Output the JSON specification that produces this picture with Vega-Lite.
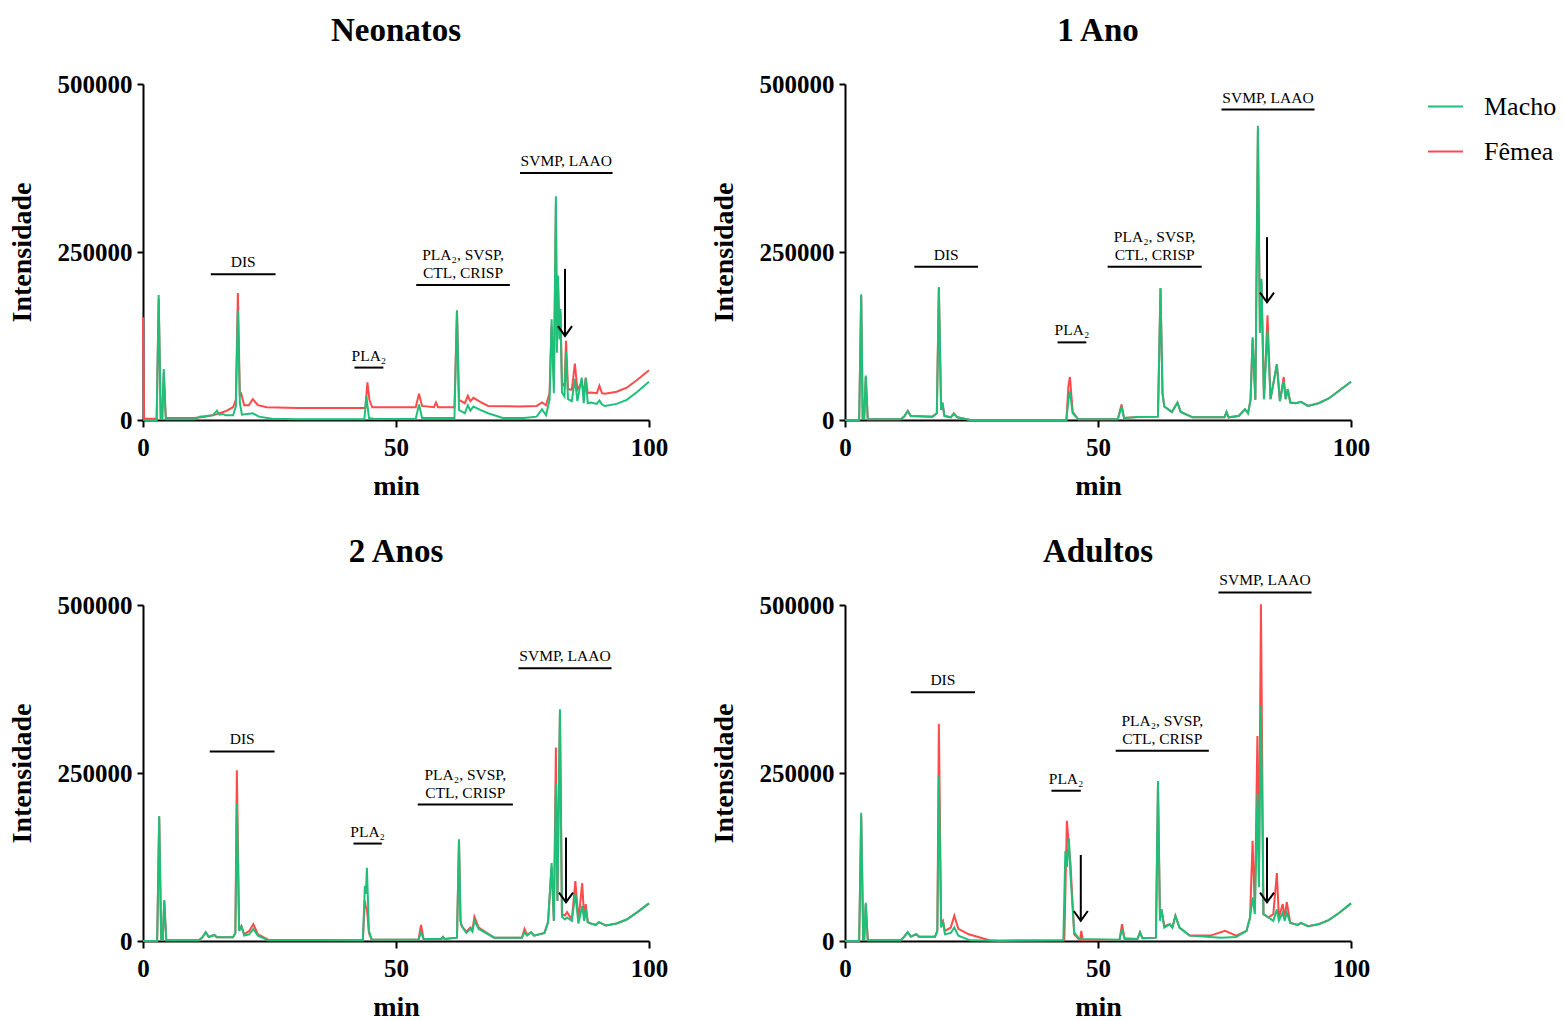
{
"$schema":"https://vega.github.io/schema/vega-lite/v6.json",
"padding":{"left":8,"top":15,"right":5,"bottom":0},
"config":{
 "font":"Liberation Serif",
 "view":{"stroke":null},
 "axis":{"grid":false,"domainColor":"black","domainWidth":2,"tickColor":"black","tickWidth":2,"tickSize":7,"labelFont":"Liberation Serif","labelFontWeight":"bold","labelFontSize":25,"labelColor":"black","titleFont":"Liberation Serif","titleFontWeight":"bold","titleFontSize":28,"titleColor":"black","labelOverlap":false,"labelBound":false},
 "axisX":{"labelPadding":8,"titlePadding":12,"labelFlush":false},
 "axisY":{"labelPadding":5,"titlePadding":21,"tickSize":6},
 "title":{"font":"Liberation Serif","fontSize":33,"fontWeight":"bold","offset":24,"color":"black","anchor":"middle"},
 "text":{"font":"Liberation Serif"}
},
"datasets":{
"ann":[
{"p":"N","x1":13.4,"x2":26.2,"xm":19.8,"y":217000,"label":"DIS"},
{"p":"N","x1":41.8,"x2":47.5,"xm":44.65,"y":78000,"label":"PLA₂"},
{"p":"N","x1":54.0,"x2":72.5,"xm":63.25,"y":201000,"label":"PLA₂, SVSP,\nCTL, CRISP"},
{"p":"N","x1":74.5,"x2":92.8,"xm":83.65,"y":367500,"label":"SVMP, LAAO"},
{"p":"A1","x1":13.7,"x2":26.3,"xm":20.0,"y":228000,"label":"DIS"},
{"p":"A1","x1":42.0,"x2":47.7,"xm":44.85,"y":115500,"label":"PLA₂"},
{"p":"A1","x1":51.9,"x2":70.5,"xm":61.2,"y":228000,"label":"PLA₂, SVSP,\nCTL, CRISP"},
{"p":"A1","x1":74.4,"x2":92.8,"xm":83.6,"y":462000,"label":"SVMP, LAAO"},
{"p":"A2","x1":13.2,"x2":26.0,"xm":19.6,"y":282000,"label":"DIS"},
{"p":"A2","x1":41.6,"x2":47.2,"xm":44.4,"y":145000,"label":"PLA₂"},
{"p":"A2","x1":54.3,"x2":73.1,"xm":63.7,"y":203000,"label":"PLA₂, SVSP,\nCTL, CRISP"},
{"p":"A2","x1":74.2,"x2":92.6,"xm":83.4,"y":406000,"label":"SVMP, LAAO"},
{"p":"AD","x1":13.0,"x2":25.7,"xm":19.35,"y":370000,"label":"DIS"},
{"p":"AD","x1":40.8,"x2":46.6,"xm":43.7,"y":223600,"label":"PLA₂"},
{"p":"AD","x1":53.5,"x2":71.9,"xm":62.7,"y":283000,"label":"PLA₂, SVSP,\nCTL, CRISP"},
{"p":"AD","x1":73.8,"x2":92.2,"xm":83.0,"y":518700,"label":"SVMP, LAAO"}
],
"arr":[
{"p":"N","t":83.4,"y1":225000,"y2":125000},
{"p":"A1","t":83.4,"y1":272000,"y2":175000},
{"p":"A2","t":83.6,"y1":154000,"y2":57500},
{"p":"AD","t":46.6,"y1":128000,"y2":30000},
{"p":"AD","t":83.4,"y1":154000,"y2":57500}
],
"chrom":[
{"p":"N","s":"Macho","t":0,"v":0},{"p":"N","s":"Macho","t":2.7,"v":0},{"p":"N","s":"Macho","t":3.1,"v":186000},{"p":"N","s":"Macho","t":3.5,"v":2000},{"p":"N","s":"Macho","t":3.8,"v":2000},{"p":"N","s":"Macho","t":4.1,"v":76000},{"p":"N","s":"Macho","t":4.5,"v":1000},{"p":"N","s":"Macho","t":10.2,"v":1000},{"p":"N","s":"Macho","t":11.2,"v":5000},{"p":"N","s":"Macho","t":13.8,"v":7000},{"p":"N","s":"Macho","t":14.6,"v":14000},{"p":"N","s":"Macho","t":15.1,"v":8000},{"p":"N","s":"Macho","t":15.8,"v":9000},{"p":"N","s":"Macho","t":16.3,"v":7000},{"p":"N","s":"Macho","t":17.8,"v":7000},{"p":"N","s":"Macho","t":18.35,"v":20000},{"p":"N","s":"Macho","t":18.75,"v":163000},{"p":"N","s":"Macho","t":19.15,"v":25000},{"p":"N","s":"Macho","t":19.55,"v":8000},{"p":"N","s":"Macho","t":21.7,"v":10000},{"p":"N","s":"Macho","t":22.9,"v":5000},{"p":"N","s":"Macho","t":25.5,"v":2000},{"p":"N","s":"Macho","t":30.55,"v":1000},{"p":"N","s":"Macho","t":43.75,"v":1000},{"p":"N","s":"Macho","t":44.15,"v":36000},{"p":"N","s":"Macho","t":44.65,"v":3000},{"p":"N","s":"Macho","t":45.8,"v":1500},{"p":"N","s":"Macho","t":53.9,"v":2000},{"p":"N","s":"Macho","t":54.55,"v":23000},{"p":"N","s":"Macho","t":55.15,"v":3000},{"p":"N","s":"Macho","t":61.55,"v":3000},{"p":"N","s":"Macho","t":62.05,"v":163000},{"p":"N","s":"Macho","t":62.45,"v":15000},{"p":"N","s":"Macho","t":63.6,"v":10000},{"p":"N","s":"Macho","t":64.2,"v":22000},{"p":"N","s":"Macho","t":64.7,"v":14000},{"p":"N","s":"Macho","t":65.3,"v":20000},{"p":"N","s":"Macho","t":66.65,"v":15000},{"p":"N","s":"Macho","t":68.2,"v":10000},{"p":"N","s":"Macho","t":71.1,"v":3000},{"p":"N","s":"Macho","t":75.3,"v":3000},{"p":"N","s":"Macho","t":77.8,"v":5000},{"p":"N","s":"Macho","t":78.85,"v":16000},{"p":"N","s":"Macho","t":79.65,"v":7000},{"p":"N","s":"Macho","t":80.35,"v":30000},{"p":"N","s":"Macho","t":80.75,"v":150000},{"p":"N","s":"Macho","t":81.2,"v":40000},{"p":"N","s":"Macho","t":81.6,"v":333000},{"p":"N","s":"Macho","t":81.8,"v":100000},{"p":"N","s":"Macho","t":82.0,"v":215000},{"p":"N","s":"Macho","t":82.3,"v":120000},{"p":"N","s":"Macho","t":82.5,"v":165000},{"p":"N","s":"Macho","t":82.8,"v":41000},{"p":"N","s":"Macho","t":83.3,"v":35000},{"p":"N","s":"Macho","t":83.6,"v":101000},{"p":"N","s":"Macho","t":84.0,"v":31000},{"p":"N","s":"Macho","t":84.75,"v":28000},{"p":"N","s":"Macho","t":85.35,"v":61000},{"p":"N","s":"Macho","t":85.85,"v":28000},{"p":"N","s":"Macho","t":86.7,"v":63000},{"p":"N","s":"Macho","t":87.1,"v":25000},{"p":"N","s":"Macho","t":87.5,"v":62000},{"p":"N","s":"Macho","t":87.9,"v":25000},{"p":"N","s":"Macho","t":88.5,"v":26000},{"p":"N","s":"Macho","t":89.7,"v":24000},{"p":"N","s":"Macho","t":90.2,"v":29000},{"p":"N","s":"Macho","t":90.7,"v":23000},{"p":"N","s":"Macho","t":91.3,"v":21000},{"p":"N","s":"Macho","t":93.6,"v":24000},{"p":"N","s":"Macho","t":95.6,"v":30000},{"p":"N","s":"Macho","t":97.7,"v":42000},{"p":"N","s":"Macho","t":100,"v":57000},
{"p":"N","s":"Fêmea","t":0,"v":153000},{"p":"N","s":"Fêmea","t":0.2,"v":2000},{"p":"N","s":"Fêmea","t":2.7,"v":2000},{"p":"N","s":"Fêmea","t":3.1,"v":180000},{"p":"N","s":"Fêmea","t":3.5,"v":3000},{"p":"N","s":"Fêmea","t":3.8,"v":3000},{"p":"N","s":"Fêmea","t":4.1,"v":70000},{"p":"N","s":"Fêmea","t":4.5,"v":3000},{"p":"N","s":"Fêmea","t":10.2,"v":3000},{"p":"N","s":"Fêmea","t":12.2,"v":5000},{"p":"N","s":"Fêmea","t":14.3,"v":8000},{"p":"N","s":"Fêmea","t":16.3,"v":13000},{"p":"N","s":"Fêmea","t":17.8,"v":19000},{"p":"N","s":"Fêmea","t":18.35,"v":30000},{"p":"N","s":"Fêmea","t":18.75,"v":189000},{"p":"N","s":"Fêmea","t":19.15,"v":35000},{"p":"N","s":"Fêmea","t":19.35,"v":41000},{"p":"N","s":"Fêmea","t":20.0,"v":22000},{"p":"N","s":"Fêmea","t":20.9,"v":22000},{"p":"N","s":"Fêmea","t":21.7,"v":31000},{"p":"N","s":"Fêmea","t":22.7,"v":22000},{"p":"N","s":"Fêmea","t":24.45,"v":19000},{"p":"N","s":"Fêmea","t":30.55,"v":18000},{"p":"N","s":"Fêmea","t":43.95,"v":18000},{"p":"N","s":"Fêmea","t":44.35,"v":56000},{"p":"N","s":"Fêmea","t":44.75,"v":30000},{"p":"N","s":"Fêmea","t":45.3,"v":19000},{"p":"N","s":"Fêmea","t":53.9,"v":19000},{"p":"N","s":"Fêmea","t":54.55,"v":39000},{"p":"N","s":"Fêmea","t":55.15,"v":21000},{"p":"N","s":"Fêmea","t":57.5,"v":19000},{"p":"N","s":"Fêmea","t":57.9,"v":26000},{"p":"N","s":"Fêmea","t":58.3,"v":19000},{"p":"N","s":"Fêmea","t":61.55,"v":19000},{"p":"N","s":"Fêmea","t":62.05,"v":163000},{"p":"N","s":"Fêmea","t":62.45,"v":30000},{"p":"N","s":"Fêmea","t":63.6,"v":25000},{"p":"N","s":"Fêmea","t":64.2,"v":36000},{"p":"N","s":"Fêmea","t":64.7,"v":28000},{"p":"N","s":"Fêmea","t":65.3,"v":33000},{"p":"N","s":"Fêmea","t":66.65,"v":27000},{"p":"N","s":"Fêmea","t":68.2,"v":21000},{"p":"N","s":"Fêmea","t":74.3,"v":20000},{"p":"N","s":"Fêmea","t":77.8,"v":21000},{"p":"N","s":"Fêmea","t":78.85,"v":26000},{"p":"N","s":"Fêmea","t":79.65,"v":22000},{"p":"N","s":"Fêmea","t":80.35,"v":40000},{"p":"N","s":"Fêmea","t":80.75,"v":140000},{"p":"N","s":"Fêmea","t":81.2,"v":60000},{"p":"N","s":"Fêmea","t":81.6,"v":320000},{"p":"N","s":"Fêmea","t":81.8,"v":120000},{"p":"N","s":"Fêmea","t":82.0,"v":210000},{"p":"N","s":"Fêmea","t":82.3,"v":130000},{"p":"N","s":"Fêmea","t":82.5,"v":160000},{"p":"N","s":"Fêmea","t":82.8,"v":55000},{"p":"N","s":"Fêmea","t":83.3,"v":50000},{"p":"N","s":"Fêmea","t":83.6,"v":118000},{"p":"N","s":"Fêmea","t":84.0,"v":46000},{"p":"N","s":"Fêmea","t":84.75,"v":45000},{"p":"N","s":"Fêmea","t":85.35,"v":84000},{"p":"N","s":"Fêmea","t":85.85,"v":45000},{"p":"N","s":"Fêmea","t":86.7,"v":56000},{"p":"N","s":"Fêmea","t":87.1,"v":40000},{"p":"N","s":"Fêmea","t":87.5,"v":63000},{"p":"N","s":"Fêmea","t":87.9,"v":40000},{"p":"N","s":"Fêmea","t":88.5,"v":41000},{"p":"N","s":"Fêmea","t":89.7,"v":40000},{"p":"N","s":"Fêmea","t":90.2,"v":51000},{"p":"N","s":"Fêmea","t":90.7,"v":40000},{"p":"N","s":"Fêmea","t":91.3,"v":39000},{"p":"N","s":"Fêmea","t":93.6,"v":42000},{"p":"N","s":"Fêmea","t":95.6,"v":48000},{"p":"N","s":"Fêmea","t":97.7,"v":60000},{"p":"N","s":"Fêmea","t":100,"v":74000},
{"p":"A1","s":"Macho","t":0,"v":0},{"p":"A1","s":"Macho","t":2.8,"v":0},{"p":"A1","s":"Macho","t":3.2,"v":187000},{"p":"A1","s":"Macho","t":3.5,"v":2000},{"p":"A1","s":"Macho","t":3.8,"v":2000},{"p":"A1","s":"Macho","t":4.1,"v":66000},{"p":"A1","s":"Macho","t":4.5,"v":1000},{"p":"A1","s":"Macho","t":11.0,"v":1000},{"p":"A1","s":"Macho","t":11.7,"v":5000},{"p":"A1","s":"Macho","t":12.4,"v":13500},{"p":"A1","s":"Macho","t":13.0,"v":6000},{"p":"A1","s":"Macho","t":17.3,"v":5000},{"p":"A1","s":"Macho","t":18.15,"v":10000},{"p":"A1","s":"Macho","t":18.55,"v":198000},{"p":"A1","s":"Macho","t":19.0,"v":15000},{"p":"A1","s":"Macho","t":19.25,"v":26000},{"p":"A1","s":"Macho","t":19.65,"v":6000},{"p":"A1","s":"Macho","t":20.9,"v":4000},{"p":"A1","s":"Macho","t":21.5,"v":9000},{"p":"A1","s":"Macho","t":22.2,"v":4000},{"p":"A1","s":"Macho","t":24.75,"v":0},{"p":"A1","s":"Macho","t":43.75,"v":0},{"p":"A1","s":"Macho","t":44.15,"v":30000},{"p":"A1","s":"Macho","t":44.45,"v":43000},{"p":"A1","s":"Macho","t":45.0,"v":10000},{"p":"A1","s":"Macho","t":46.1,"v":1000},{"p":"A1","s":"Macho","t":53.9,"v":1000},{"p":"A1","s":"Macho","t":54.65,"v":19000},{"p":"A1","s":"Macho","t":55.15,"v":3000},{"p":"A1","s":"Macho","t":58.0,"v":4500},{"p":"A1","s":"Macho","t":61.85,"v":5000},{"p":"A1","s":"Macho","t":62.35,"v":196000},{"p":"A1","s":"Macho","t":62.75,"v":40000},{"p":"A1","s":"Macho","t":63.1,"v":20000},{"p":"A1","s":"Macho","t":64.6,"v":12000},{"p":"A1","s":"Macho","t":65.7,"v":26000},{"p":"A1","s":"Macho","t":66.35,"v":12000},{"p":"A1","s":"Macho","t":68.7,"v":4000},{"p":"A1","s":"Macho","t":75.0,"v":4000},{"p":"A1","s":"Macho","t":75.4,"v":12000},{"p":"A1","s":"Macho","t":75.8,"v":4000},{"p":"A1","s":"Macho","t":77.8,"v":6000},{"p":"A1","s":"Macho","t":79.05,"v":16000},{"p":"A1","s":"Macho","t":79.65,"v":10000},{"p":"A1","s":"Macho","t":80.15,"v":30000},{"p":"A1","s":"Macho","t":80.55,"v":123000},{"p":"A1","s":"Macho","t":81.1,"v":30000},{"p":"A1","s":"Macho","t":81.6,"v":438000},{"p":"A1","s":"Macho","t":82.0,"v":130000},{"p":"A1","s":"Macho","t":82.3,"v":210000},{"p":"A1","s":"Macho","t":82.8,"v":31000},{"p":"A1","s":"Macho","t":83.5,"v":133000},{"p":"A1","s":"Macho","t":84.1,"v":31000},{"p":"A1","s":"Macho","t":85.35,"v":83000},{"p":"A1","s":"Macho","t":85.95,"v":28000},{"p":"A1","s":"Macho","t":86.7,"v":58000},{"p":"A1","s":"Macho","t":87.1,"v":31000},{"p":"A1","s":"Macho","t":87.5,"v":46000},{"p":"A1","s":"Macho","t":88.0,"v":26000},{"p":"A1","s":"Macho","t":89.1,"v":25000},{"p":"A1","s":"Macho","t":90.1,"v":27000},{"p":"A1","s":"Macho","t":91.5,"v":21000},{"p":"A1","s":"Macho","t":93.6,"v":25000},{"p":"A1","s":"Macho","t":95.6,"v":32000},{"p":"A1","s":"Macho","t":97.7,"v":44000},{"p":"A1","s":"Macho","t":100,"v":57000},
{"p":"A1","s":"Fêmea","t":0,"v":0},{"p":"A1","s":"Fêmea","t":2.8,"v":0},{"p":"A1","s":"Fêmea","t":3.2,"v":185000},{"p":"A1","s":"Fêmea","t":3.5,"v":2000},{"p":"A1","s":"Fêmea","t":3.8,"v":2000},{"p":"A1","s":"Fêmea","t":4.1,"v":64000},{"p":"A1","s":"Fêmea","t":4.5,"v":1000},{"p":"A1","s":"Fêmea","t":11.0,"v":1000},{"p":"A1","s":"Fêmea","t":11.7,"v":5000},{"p":"A1","s":"Fêmea","t":12.4,"v":13500},{"p":"A1","s":"Fêmea","t":13.0,"v":6000},{"p":"A1","s":"Fêmea","t":17.3,"v":5000},{"p":"A1","s":"Fêmea","t":18.15,"v":10000},{"p":"A1","s":"Fêmea","t":18.55,"v":196000},{"p":"A1","s":"Fêmea","t":19.0,"v":15000},{"p":"A1","s":"Fêmea","t":19.25,"v":26000},{"p":"A1","s":"Fêmea","t":19.65,"v":6000},{"p":"A1","s":"Fêmea","t":20.9,"v":4000},{"p":"A1","s":"Fêmea","t":21.5,"v":10000},{"p":"A1","s":"Fêmea","t":22.2,"v":4000},{"p":"A1","s":"Fêmea","t":24.75,"v":0},{"p":"A1","s":"Fêmea","t":43.75,"v":0},{"p":"A1","s":"Fêmea","t":44.15,"v":50000},{"p":"A1","s":"Fêmea","t":44.45,"v":64000},{"p":"A1","s":"Fêmea","t":45.0,"v":12000},{"p":"A1","s":"Fêmea","t":46.1,"v":1000},{"p":"A1","s":"Fêmea","t":53.9,"v":1000},{"p":"A1","s":"Fêmea","t":54.65,"v":23000},{"p":"A1","s":"Fêmea","t":55.15,"v":3000},{"p":"A1","s":"Fêmea","t":58.0,"v":4500},{"p":"A1","s":"Fêmea","t":61.85,"v":5000},{"p":"A1","s":"Fêmea","t":62.35,"v":196000},{"p":"A1","s":"Fêmea","t":62.75,"v":40000},{"p":"A1","s":"Fêmea","t":63.1,"v":20000},{"p":"A1","s":"Fêmea","t":64.6,"v":12000},{"p":"A1","s":"Fêmea","t":65.7,"v":26000},{"p":"A1","s":"Fêmea","t":66.35,"v":12000},{"p":"A1","s":"Fêmea","t":68.7,"v":4000},{"p":"A1","s":"Fêmea","t":75.0,"v":4000},{"p":"A1","s":"Fêmea","t":75.4,"v":12000},{"p":"A1","s":"Fêmea","t":75.8,"v":4000},{"p":"A1","s":"Fêmea","t":77.8,"v":6000},{"p":"A1","s":"Fêmea","t":79.05,"v":16000},{"p":"A1","s":"Fêmea","t":79.65,"v":10000},{"p":"A1","s":"Fêmea","t":80.15,"v":30000},{"p":"A1","s":"Fêmea","t":80.55,"v":120000},{"p":"A1","s":"Fêmea","t":81.1,"v":30000},{"p":"A1","s":"Fêmea","t":81.6,"v":430000},{"p":"A1","s":"Fêmea","t":82.0,"v":130000},{"p":"A1","s":"Fêmea","t":82.3,"v":205000},{"p":"A1","s":"Fêmea","t":82.8,"v":31000},{"p":"A1","s":"Fêmea","t":83.5,"v":156000},{"p":"A1","s":"Fêmea","t":84.1,"v":31000},{"p":"A1","s":"Fêmea","t":85.35,"v":83000},{"p":"A1","s":"Fêmea","t":85.95,"v":28000},{"p":"A1","s":"Fêmea","t":86.7,"v":64000},{"p":"A1","s":"Fêmea","t":87.1,"v":31000},{"p":"A1","s":"Fêmea","t":87.5,"v":46000},{"p":"A1","s":"Fêmea","t":88.0,"v":26000},{"p":"A1","s":"Fêmea","t":89.1,"v":25000},{"p":"A1","s":"Fêmea","t":90.1,"v":27000},{"p":"A1","s":"Fêmea","t":91.5,"v":21000},{"p":"A1","s":"Fêmea","t":93.6,"v":25000},{"p":"A1","s":"Fêmea","t":95.6,"v":32000},{"p":"A1","s":"Fêmea","t":97.7,"v":44000},{"p":"A1","s":"Fêmea","t":100,"v":57000},
{"p":"A2","s":"Macho","t":0,"v":0},{"p":"A2","s":"Macho","t":2.8,"v":0},{"p":"A2","s":"Macho","t":3.2,"v":186000},{"p":"A2","s":"Macho","t":3.6,"v":2000},{"p":"A2","s":"Macho","t":3.9,"v":2000},{"p":"A2","s":"Macho","t":4.2,"v":61000},{"p":"A2","s":"Macho","t":4.6,"v":1000},{"p":"A2","s":"Macho","t":11.0,"v":1000},{"p":"A2","s":"Macho","t":11.7,"v":5000},{"p":"A2","s":"Macho","t":12.4,"v":13000},{"p":"A2","s":"Macho","t":13.0,"v":6000},{"p":"A2","s":"Macho","t":14.1,"v":9000},{"p":"A2","s":"Macho","t":14.6,"v":5500},{"p":"A2","s":"Macho","t":17.8,"v":5500},{"p":"A2","s":"Macho","t":18.25,"v":12000},{"p":"A2","s":"Macho","t":18.55,"v":204000},{"p":"A2","s":"Macho","t":19.0,"v":15000},{"p":"A2","s":"Macho","t":19.45,"v":22000},{"p":"A2","s":"Macho","t":20.0,"v":8000},{"p":"A2","s":"Macho","t":21.0,"v":10000},{"p":"A2","s":"Macho","t":21.8,"v":18000},{"p":"A2","s":"Macho","t":22.7,"v":8000},{"p":"A2","s":"Macho","t":24.75,"v":1000},{"p":"A2","s":"Macho","t":43.45,"v":1000},{"p":"A2","s":"Macho","t":43.85,"v":82000},{"p":"A2","s":"Macho","t":44.05,"v":70000},{"p":"A2","s":"Macho","t":44.25,"v":109000},{"p":"A2","s":"Macho","t":44.65,"v":15000},{"p":"A2","s":"Macho","t":45.2,"v":2000},{"p":"A2","s":"Macho","t":54.45,"v":2000},{"p":"A2","s":"Macho","t":54.95,"v":13000},{"p":"A2","s":"Macho","t":55.45,"v":3000},{"p":"A2","s":"Macho","t":59.0,"v":3000},{"p":"A2","s":"Macho","t":59.3,"v":6000},{"p":"A2","s":"Macho","t":59.6,"v":3000},{"p":"A2","s":"Macho","t":62.05,"v":5000},{"p":"A2","s":"Macho","t":62.45,"v":151000},{"p":"A2","s":"Macho","t":62.75,"v":30000},{"p":"A2","s":"Macho","t":63.0,"v":22000},{"p":"A2","s":"Macho","t":63.9,"v":12000},{"p":"A2","s":"Macho","t":64.7,"v":18000},{"p":"A2","s":"Macho","t":65.1,"v":14000},{"p":"A2","s":"Macho","t":65.5,"v":30000},{"p":"A2","s":"Macho","t":66.35,"v":18000},{"p":"A2","s":"Macho","t":69.4,"v":5000},{"p":"A2","s":"Macho","t":74.9,"v":5000},{"p":"A2","s":"Macho","t":75.4,"v":13000},{"p":"A2","s":"Macho","t":75.9,"v":8000},{"p":"A2","s":"Macho","t":76.7,"v":13000},{"p":"A2","s":"Macho","t":77.3,"v":8000},{"p":"A2","s":"Macho","t":79.35,"v":12000},{"p":"A2","s":"Macho","t":80.05,"v":28000},{"p":"A2","s":"Macho","t":80.75,"v":116000},{"p":"A2","s":"Macho","t":81.2,"v":30000},{"p":"A2","s":"Macho","t":81.6,"v":234000},{"p":"A2","s":"Macho","t":81.9,"v":60000},{"p":"A2","s":"Macho","t":82.4,"v":345000},{"p":"A2","s":"Macho","t":82.8,"v":36000},{"p":"A2","s":"Macho","t":83.4,"v":32000},{"p":"A2","s":"Macho","t":83.8,"v":35000},{"p":"A2","s":"Macho","t":84.75,"v":30000},{"p":"A2","s":"Macho","t":85.45,"v":70000},{"p":"A2","s":"Macho","t":86.05,"v":26000},{"p":"A2","s":"Macho","t":86.8,"v":52000},{"p":"A2","s":"Macho","t":87.2,"v":30000},{"p":"A2","s":"Macho","t":87.5,"v":48000},{"p":"A2","s":"Macho","t":87.9,"v":28000},{"p":"A2","s":"Macho","t":88.5,"v":26000},{"p":"A2","s":"Macho","t":89.5,"v":24000},{"p":"A2","s":"Macho","t":90.1,"v":28000},{"p":"A2","s":"Macho","t":91.5,"v":23000},{"p":"A2","s":"Macho","t":93.6,"v":26000},{"p":"A2","s":"Macho","t":95.6,"v":32000},{"p":"A2","s":"Macho","t":97.7,"v":43000},{"p":"A2","s":"Macho","t":100,"v":56000},
{"p":"A2","s":"Fêmea","t":0,"v":0},{"p":"A2","s":"Fêmea","t":2.8,"v":0},{"p":"A2","s":"Fêmea","t":3.2,"v":184000},{"p":"A2","s":"Fêmea","t":3.6,"v":2000},{"p":"A2","s":"Fêmea","t":3.9,"v":2000},{"p":"A2","s":"Fêmea","t":4.2,"v":60000},{"p":"A2","s":"Fêmea","t":4.6,"v":1000},{"p":"A2","s":"Fêmea","t":11.0,"v":1000},{"p":"A2","s":"Fêmea","t":11.7,"v":5000},{"p":"A2","s":"Fêmea","t":12.4,"v":13000},{"p":"A2","s":"Fêmea","t":13.0,"v":6000},{"p":"A2","s":"Fêmea","t":14.1,"v":9000},{"p":"A2","s":"Fêmea","t":14.6,"v":5500},{"p":"A2","s":"Fêmea","t":17.8,"v":5500},{"p":"A2","s":"Fêmea","t":18.25,"v":12000},{"p":"A2","s":"Fêmea","t":18.55,"v":254000},{"p":"A2","s":"Fêmea","t":19.0,"v":15000},{"p":"A2","s":"Fêmea","t":19.45,"v":22000},{"p":"A2","s":"Fêmea","t":20.0,"v":10000},{"p":"A2","s":"Fêmea","t":21.0,"v":15000},{"p":"A2","s":"Fêmea","t":21.8,"v":25000},{"p":"A2","s":"Fêmea","t":22.7,"v":10000},{"p":"A2","s":"Fêmea","t":24.75,"v":2000},{"p":"A2","s":"Fêmea","t":43.45,"v":1000},{"p":"A2","s":"Fêmea","t":43.85,"v":60000},{"p":"A2","s":"Fêmea","t":44.05,"v":50000},{"p":"A2","s":"Fêmea","t":44.25,"v":48000},{"p":"A2","s":"Fêmea","t":44.65,"v":12000},{"p":"A2","s":"Fêmea","t":45.2,"v":2000},{"p":"A2","s":"Fêmea","t":54.45,"v":2000},{"p":"A2","s":"Fêmea","t":54.95,"v":24000},{"p":"A2","s":"Fêmea","t":55.45,"v":3000},{"p":"A2","s":"Fêmea","t":59.0,"v":3000},{"p":"A2","s":"Fêmea","t":59.3,"v":6000},{"p":"A2","s":"Fêmea","t":59.6,"v":3000},{"p":"A2","s":"Fêmea","t":62.05,"v":5000},{"p":"A2","s":"Fêmea","t":62.45,"v":151000},{"p":"A2","s":"Fêmea","t":62.75,"v":30000},{"p":"A2","s":"Fêmea","t":63.0,"v":22000},{"p":"A2","s":"Fêmea","t":63.9,"v":14000},{"p":"A2","s":"Fêmea","t":64.7,"v":20000},{"p":"A2","s":"Fêmea","t":65.1,"v":16000},{"p":"A2","s":"Fêmea","t":65.5,"v":36000},{"p":"A2","s":"Fêmea","t":66.35,"v":20000},{"p":"A2","s":"Fêmea","t":69.4,"v":5000},{"p":"A2","s":"Fêmea","t":74.9,"v":5000},{"p":"A2","s":"Fêmea","t":75.4,"v":18000},{"p":"A2","s":"Fêmea","t":75.9,"v":9000},{"p":"A2","s":"Fêmea","t":76.7,"v":13000},{"p":"A2","s":"Fêmea","t":77.3,"v":8000},{"p":"A2","s":"Fêmea","t":79.35,"v":12000},{"p":"A2","s":"Fêmea","t":80.05,"v":28000},{"p":"A2","s":"Fêmea","t":80.75,"v":110000},{"p":"A2","s":"Fêmea","t":81.2,"v":30000},{"p":"A2","s":"Fêmea","t":81.6,"v":288000},{"p":"A2","s":"Fêmea","t":81.9,"v":60000},{"p":"A2","s":"Fêmea","t":82.4,"v":340000},{"p":"A2","s":"Fêmea","t":82.8,"v":40000},{"p":"A2","s":"Fêmea","t":83.4,"v":38000},{"p":"A2","s":"Fêmea","t":83.8,"v":43000},{"p":"A2","s":"Fêmea","t":84.75,"v":32000},{"p":"A2","s":"Fêmea","t":85.45,"v":89000},{"p":"A2","s":"Fêmea","t":86.05,"v":30000},{"p":"A2","s":"Fêmea","t":86.8,"v":86000},{"p":"A2","s":"Fêmea","t":87.2,"v":32000},{"p":"A2","s":"Fêmea","t":87.5,"v":55000},{"p":"A2","s":"Fêmea","t":87.9,"v":28000},{"p":"A2","s":"Fêmea","t":88.5,"v":26000},{"p":"A2","s":"Fêmea","t":89.5,"v":24000},{"p":"A2","s":"Fêmea","t":90.1,"v":28000},{"p":"A2","s":"Fêmea","t":91.5,"v":23000},{"p":"A2","s":"Fêmea","t":93.6,"v":26000},{"p":"A2","s":"Fêmea","t":95.6,"v":32000},{"p":"A2","s":"Fêmea","t":97.7,"v":43000},{"p":"A2","s":"Fêmea","t":100,"v":56000},
{"p":"AD","s":"Macho","t":0,"v":0},{"p":"AD","s":"Macho","t":2.8,"v":0},{"p":"AD","s":"Macho","t":3.2,"v":191000},{"p":"AD","s":"Macho","t":3.6,"v":2000},{"p":"AD","s":"Macho","t":3.8,"v":2000},{"p":"AD","s":"Macho","t":4.1,"v":57000},{"p":"AD","s":"Macho","t":4.5,"v":1000},{"p":"AD","s":"Macho","t":11.0,"v":1000},{"p":"AD","s":"Macho","t":11.7,"v":6500},{"p":"AD","s":"Macho","t":12.4,"v":13000},{"p":"AD","s":"Macho","t":13.0,"v":6500},{"p":"AD","s":"Macho","t":14.1,"v":10000},{"p":"AD","s":"Macho","t":14.6,"v":6500},{"p":"AD","s":"Macho","t":17.8,"v":6500},{"p":"AD","s":"Macho","t":18.25,"v":15000},{"p":"AD","s":"Macho","t":18.55,"v":245000},{"p":"AD","s":"Macho","t":19.0,"v":20000},{"p":"AD","s":"Macho","t":19.35,"v":30000},{"p":"AD","s":"Macho","t":19.75,"v":10000},{"p":"AD","s":"Macho","t":20.9,"v":12000},{"p":"AD","s":"Macho","t":21.6,"v":20000},{"p":"AD","s":"Macho","t":22.4,"v":8000},{"p":"AD","s":"Macho","t":24.75,"v":1000},{"p":"AD","s":"Macho","t":30.55,"v":500},{"p":"AD","s":"Macho","t":43.15,"v":1000},{"p":"AD","s":"Macho","t":43.55,"v":134000},{"p":"AD","s":"Macho","t":43.85,"v":110000},{"p":"AD","s":"Macho","t":44.25,"v":153000},{"p":"AD","s":"Macho","t":44.55,"v":100000},{"p":"AD","s":"Macho","t":45.3,"v":13000},{"p":"AD","s":"Macho","t":46.3,"v":3000},{"p":"AD","s":"Macho","t":54.25,"v":2000},{"p":"AD","s":"Macho","t":54.75,"v":18000},{"p":"AD","s":"Macho","t":55.25,"v":3000},{"p":"AD","s":"Macho","t":57.8,"v":3000},{"p":"AD","s":"Macho","t":58.3,"v":13000},{"p":"AD","s":"Macho","t":58.8,"v":4000},{"p":"AD","s":"Macho","t":61.45,"v":5000},{"p":"AD","s":"Macho","t":61.85,"v":238000},{"p":"AD","s":"Macho","t":62.25,"v":30000},{"p":"AD","s":"Macho","t":62.55,"v":47000},{"p":"AD","s":"Macho","t":63.1,"v":20000},{"p":"AD","s":"Macho","t":64.2,"v":25000},{"p":"AD","s":"Macho","t":64.7,"v":20000},{"p":"AD","s":"Macho","t":65.3,"v":37600},{"p":"AD","s":"Macho","t":66.1,"v":20000},{"p":"AD","s":"Macho","t":68.1,"v":8000},{"p":"AD","s":"Macho","t":74.3,"v":5000},{"p":"AD","s":"Macho","t":77.3,"v":6000},{"p":"AD","s":"Macho","t":79.35,"v":15000},{"p":"AD","s":"Macho","t":80.05,"v":35000},{"p":"AD","s":"Macho","t":80.55,"v":65000},{"p":"AD","s":"Macho","t":81.0,"v":40000},{"p":"AD","s":"Macho","t":81.5,"v":219000},{"p":"AD","s":"Macho","t":81.8,"v":80000},{"p":"AD","s":"Macho","t":82.2,"v":350000},{"p":"AD","s":"Macho","t":82.7,"v":40000},{"p":"AD","s":"Macho","t":83.7,"v":35000},{"p":"AD","s":"Macho","t":84.65,"v":30000},{"p":"AD","s":"Macho","t":85.35,"v":47000},{"p":"AD","s":"Macho","t":85.75,"v":30000},{"p":"AD","s":"Macho","t":86.5,"v":42000},{"p":"AD","s":"Macho","t":86.9,"v":30000},{"p":"AD","s":"Macho","t":87.3,"v":42000},{"p":"AD","s":"Macho","t":88.0,"v":27000},{"p":"AD","s":"Macho","t":89.5,"v":24000},{"p":"AD","s":"Macho","t":90.1,"v":27000},{"p":"AD","s":"Macho","t":91.5,"v":22000},{"p":"AD","s":"Macho","t":93.6,"v":25000},{"p":"AD","s":"Macho","t":95.6,"v":31000},{"p":"AD","s":"Macho","t":97.7,"v":42000},{"p":"AD","s":"Macho","t":100,"v":56000},
{"p":"AD","s":"Fêmea","t":0,"v":0},{"p":"AD","s":"Fêmea","t":2.8,"v":0},{"p":"AD","s":"Fêmea","t":3.2,"v":185000},{"p":"AD","s":"Fêmea","t":3.6,"v":2000},{"p":"AD","s":"Fêmea","t":3.8,"v":2000},{"p":"AD","s":"Fêmea","t":4.1,"v":55000},{"p":"AD","s":"Fêmea","t":4.5,"v":1000},{"p":"AD","s":"Fêmea","t":11.0,"v":1000},{"p":"AD","s":"Fêmea","t":11.7,"v":6500},{"p":"AD","s":"Fêmea","t":12.4,"v":13000},{"p":"AD","s":"Fêmea","t":13.0,"v":6500},{"p":"AD","s":"Fêmea","t":14.1,"v":10000},{"p":"AD","s":"Fêmea","t":14.6,"v":6500},{"p":"AD","s":"Fêmea","t":17.8,"v":6500},{"p":"AD","s":"Fêmea","t":18.25,"v":15000},{"p":"AD","s":"Fêmea","t":18.55,"v":323000},{"p":"AD","s":"Fêmea","t":19.0,"v":25000},{"p":"AD","s":"Fêmea","t":19.35,"v":30000},{"p":"AD","s":"Fêmea","t":19.75,"v":15000},{"p":"AD","s":"Fêmea","t":20.9,"v":20000},{"p":"AD","s":"Fêmea","t":21.6,"v":37600},{"p":"AD","s":"Fêmea","t":22.4,"v":18000},{"p":"AD","s":"Fêmea","t":24.45,"v":10000},{"p":"AD","s":"Fêmea","t":28.5,"v":1000},{"p":"AD","s":"Fêmea","t":30.55,"v":500},{"p":"AD","s":"Fêmea","t":43.35,"v":1000},{"p":"AD","s":"Fêmea","t":43.85,"v":179000},{"p":"AD","s":"Fêmea","t":44.25,"v":140000},{"p":"AD","s":"Fêmea","t":44.55,"v":117000},{"p":"AD","s":"Fêmea","t":45.3,"v":10000},{"p":"AD","s":"Fêmea","t":46.3,"v":2000},{"p":"AD","s":"Fêmea","t":46.45,"v":2000},{"p":"AD","s":"Fêmea","t":46.7,"v":15000},{"p":"AD","s":"Fêmea","t":47.0,"v":1000},{"p":"AD","s":"Fêmea","t":54.25,"v":2000},{"p":"AD","s":"Fêmea","t":54.75,"v":25000},{"p":"AD","s":"Fêmea","t":55.25,"v":4000},{"p":"AD","s":"Fêmea","t":57.8,"v":3000},{"p":"AD","s":"Fêmea","t":58.3,"v":13000},{"p":"AD","s":"Fêmea","t":58.8,"v":4000},{"p":"AD","s":"Fêmea","t":61.45,"v":5000},{"p":"AD","s":"Fêmea","t":61.85,"v":230000},{"p":"AD","s":"Fêmea","t":62.25,"v":35000},{"p":"AD","s":"Fêmea","t":62.55,"v":47000},{"p":"AD","s":"Fêmea","t":63.1,"v":22000},{"p":"AD","s":"Fêmea","t":64.2,"v":25000},{"p":"AD","s":"Fêmea","t":64.7,"v":20000},{"p":"AD","s":"Fêmea","t":65.3,"v":37600},{"p":"AD","s":"Fêmea","t":66.1,"v":20000},{"p":"AD","s":"Fêmea","t":68.1,"v":8000},{"p":"AD","s":"Fêmea","t":72.25,"v":8000},{"p":"AD","s":"Fêmea","t":75.1,"v":15000},{"p":"AD","s":"Fêmea","t":77.3,"v":8000},{"p":"AD","s":"Fêmea","t":79.35,"v":15000},{"p":"AD","s":"Fêmea","t":80.05,"v":35000},{"p":"AD","s":"Fêmea","t":80.55,"v":149000},{"p":"AD","s":"Fêmea","t":81.0,"v":45000},{"p":"AD","s":"Fêmea","t":81.5,"v":305000},{"p":"AD","s":"Fêmea","t":81.8,"v":90000},{"p":"AD","s":"Fêmea","t":82.2,"v":501000},{"p":"AD","s":"Fêmea","t":82.7,"v":40000},{"p":"AD","s":"Fêmea","t":83.7,"v":35000},{"p":"AD","s":"Fêmea","t":84.65,"v":40000},{"p":"AD","s":"Fêmea","t":85.35,"v":101000},{"p":"AD","s":"Fêmea","t":85.75,"v":35000},{"p":"AD","s":"Fêmea","t":86.5,"v":55000},{"p":"AD","s":"Fêmea","t":86.9,"v":35000},{"p":"AD","s":"Fêmea","t":87.3,"v":58000},{"p":"AD","s":"Fêmea","t":88.0,"v":27000},{"p":"AD","s":"Fêmea","t":89.5,"v":24000},{"p":"AD","s":"Fêmea","t":90.1,"v":27000},{"p":"AD","s":"Fêmea","t":91.5,"v":22000},{"p":"AD","s":"Fêmea","t":93.6,"v":25000},{"p":"AD","s":"Fêmea","t":95.6,"v":31000},{"p":"AD","s":"Fêmea","t":97.7,"v":42000},{"p":"AD","s":"Fêmea","t":100,"v":56000}
]
},
"columns":2,
"spacing":{"row":185,"column":196},
"bounds":"flush",
"resolve":{"scale":{"color":"shared"},"legend":{"color":"shared"}},
"concat":[
{"width":506,"height":336,"title":"Neonatos","layer":[
 {"data":{"name":"chrom"},"transform":[{"filter":"datum.p=='N'&&datum.s=='Fêmea'"}],"mark":{"type":"line","strokeWidth":2,"clip":false},"encoding":{"x":{"field":"t","type":"quantitative","scale":{"domain":[0,100],"nice":false},"axis":{"title":"min","values":[0,50,100]}},"y":{"field":"v","type":"quantitative","scale":{"domain":[0,500000],"nice":false},"axis":{"title":"Intensidade","values":[0,250000,500000],"format":"d"}},"color":{"field":"s","type":"nominal","scale":{"domain":["Macho","Fêmea"],"range":["#1fbf7a","#ff4a4a"]},"legend":{"title":null,"orient":"none","legendX":1284,"legendY":4,"symbolType":"stroke","symbolSize":1225,"symbolStrokeWidth":2,"labelFontSize":26,"labelFont":"Liberation Serif","labelColor":"black","labelOffset":20,"rowPadding":13,"padding":0}}}},
 {"data":{"name":"chrom"},"transform":[{"filter":"datum.p=='N'&&datum.s=='Macho'"}],"mark":{"type":"line","strokeWidth":2,"clip":false},"encoding":{"x":{"field":"t","type":"quantitative"},"y":{"field":"v","type":"quantitative"},"color":{"field":"s","type":"nominal"}}},
 {"data":{"name":"ann"},"transform":[{"filter":"datum.p=='N'"}],"mark":{"type":"rule","color":"black","strokeWidth":2,"clip":false},"encoding":{"x":{"field":"x1","type":"quantitative"},"x2":{"field":"x2"},"y":{"field":"y","type":"quantitative"}}},
 {"data":{"name":"ann"},"transform":[{"filter":"datum.p=='N'&&indexof(datum.label,'\\n')<0"}],"mark":{"type":"text","fontSize":15.5,"baseline":"bottom","dy":-4,"color":"black","clip":false},"encoding":{"x":{"field":"xm","type":"quantitative"},"y":{"field":"y","type":"quantitative"},"text":{"field":"label"}}},
 {"data":{"name":"ann"},"transform":[{"filter":"datum.p=='N'&&indexof(datum.label,'\\n')>=0"}],"mark":{"type":"text","fontSize":15.5,"baseline":"bottom","dy":-22,"lineBreak":"\n","lineHeight":18,"color":"black","clip":false},"encoding":{"x":{"field":"xm","type":"quantitative"},"y":{"field":"y","type":"quantitative"},"text":{"field":"label"}}},
 {"data":{"name":"arr"},"transform":[{"filter":"datum.p=='N'"}],"mark":{"type":"rule","color":"black","strokeWidth":2},"encoding":{"x":{"field":"t","type":"quantitative"},"y":{"field":"y1","type":"quantitative"},"y2":{"field":"y2"}}},
 {"data":{"name":"arr"},"transform":[{"filter":"datum.p=='N'"}],"mark":{"type":"point","shape":"M-1,-1.4L0,0L1,-1.4","filled":false,"color":"black","strokeWidth":2,"size":196,"opacity":1},"encoding":{"x":{"field":"t","type":"quantitative"},"y":{"field":"y2","type":"quantitative"}}}
]},
{"width":506,"height":336,"title":"1 Ano","layer":[
 {"data":{"name":"chrom"},"transform":[{"filter":"datum.p=='A1'&&datum.s=='Fêmea'"}],"mark":{"type":"line","strokeWidth":2,"clip":false},"encoding":{"x":{"field":"t","type":"quantitative","scale":{"domain":[0,100],"nice":false},"axis":{"title":"min","values":[0,50,100]}},"y":{"field":"v","type":"quantitative","scale":{"domain":[0,500000],"nice":false},"axis":{"title":"Intensidade","values":[0,250000,500000],"format":"d"}},"color":{"field":"s","type":"nominal"}}},
 {"data":{"name":"chrom"},"transform":[{"filter":"datum.p=='A1'&&datum.s=='Macho'"}],"mark":{"type":"line","strokeWidth":2,"clip":false},"encoding":{"x":{"field":"t","type":"quantitative"},"y":{"field":"v","type":"quantitative"},"color":{"field":"s","type":"nominal"}}},
 {"data":{"name":"ann"},"transform":[{"filter":"datum.p=='A1'"}],"mark":{"type":"rule","color":"black","strokeWidth":2,"clip":false},"encoding":{"x":{"field":"x1","type":"quantitative"},"x2":{"field":"x2"},"y":{"field":"y","type":"quantitative"}}},
 {"data":{"name":"ann"},"transform":[{"filter":"datum.p=='A1'&&indexof(datum.label,'\\n')<0"}],"mark":{"type":"text","fontSize":15.5,"baseline":"bottom","dy":-4,"color":"black","clip":false},"encoding":{"x":{"field":"xm","type":"quantitative"},"y":{"field":"y","type":"quantitative"},"text":{"field":"label"}}},
 {"data":{"name":"ann"},"transform":[{"filter":"datum.p=='A1'&&indexof(datum.label,'\\n')>=0"}],"mark":{"type":"text","fontSize":15.5,"baseline":"bottom","dy":-22,"lineBreak":"\n","lineHeight":18,"color":"black","clip":false},"encoding":{"x":{"field":"xm","type":"quantitative"},"y":{"field":"y","type":"quantitative"},"text":{"field":"label"}}},
 {"data":{"name":"arr"},"transform":[{"filter":"datum.p=='A1'"}],"mark":{"type":"rule","color":"black","strokeWidth":2},"encoding":{"x":{"field":"t","type":"quantitative"},"y":{"field":"y1","type":"quantitative"},"y2":{"field":"y2"}}},
 {"data":{"name":"arr"},"transform":[{"filter":"datum.p=='A1'"}],"mark":{"type":"point","shape":"M-1,-1.4L0,0L1,-1.4","filled":false,"color":"black","strokeWidth":2,"size":196,"opacity":1},"encoding":{"x":{"field":"t","type":"quantitative"},"y":{"field":"y2","type":"quantitative"}}}
]},
{"width":506,"height":336,"title":"2 Anos","layer":[
 {"data":{"name":"chrom"},"transform":[{"filter":"datum.p=='A2'&&datum.s=='Fêmea'"}],"mark":{"type":"line","strokeWidth":2,"clip":false},"encoding":{"x":{"field":"t","type":"quantitative","scale":{"domain":[0,100],"nice":false},"axis":{"title":"min","values":[0,50,100]}},"y":{"field":"v","type":"quantitative","scale":{"domain":[0,500000],"nice":false},"axis":{"title":"Intensidade","values":[0,250000,500000],"format":"d"}},"color":{"field":"s","type":"nominal"}}},
 {"data":{"name":"chrom"},"transform":[{"filter":"datum.p=='A2'&&datum.s=='Macho'"}],"mark":{"type":"line","strokeWidth":2,"clip":false},"encoding":{"x":{"field":"t","type":"quantitative"},"y":{"field":"v","type":"quantitative"},"color":{"field":"s","type":"nominal"}}},
 {"data":{"name":"ann"},"transform":[{"filter":"datum.p=='A2'"}],"mark":{"type":"rule","color":"black","strokeWidth":2,"clip":false},"encoding":{"x":{"field":"x1","type":"quantitative"},"x2":{"field":"x2"},"y":{"field":"y","type":"quantitative"}}},
 {"data":{"name":"ann"},"transform":[{"filter":"datum.p=='A2'&&indexof(datum.label,'\\n')<0"}],"mark":{"type":"text","fontSize":15.5,"baseline":"bottom","dy":-4,"color":"black","clip":false},"encoding":{"x":{"field":"xm","type":"quantitative"},"y":{"field":"y","type":"quantitative"},"text":{"field":"label"}}},
 {"data":{"name":"ann"},"transform":[{"filter":"datum.p=='A2'&&indexof(datum.label,'\\n')>=0"}],"mark":{"type":"text","fontSize":15.5,"baseline":"bottom","dy":-22,"lineBreak":"\n","lineHeight":18,"color":"black","clip":false},"encoding":{"x":{"field":"xm","type":"quantitative"},"y":{"field":"y","type":"quantitative"},"text":{"field":"label"}}},
 {"data":{"name":"arr"},"transform":[{"filter":"datum.p=='A2'"}],"mark":{"type":"rule","color":"black","strokeWidth":2},"encoding":{"x":{"field":"t","type":"quantitative"},"y":{"field":"y1","type":"quantitative"},"y2":{"field":"y2"}}},
 {"data":{"name":"arr"},"transform":[{"filter":"datum.p=='A2'"}],"mark":{"type":"point","shape":"M-1,-1.4L0,0L1,-1.4","filled":false,"color":"black","strokeWidth":2,"size":196,"opacity":1},"encoding":{"x":{"field":"t","type":"quantitative"},"y":{"field":"y2","type":"quantitative"}}}
]},
{"width":506,"height":336,"title":{"text":"Adultos","offset":4},"layer":[
 {"data":{"name":"chrom"},"transform":[{"filter":"datum.p=='AD'&&datum.s=='Fêmea'"}],"mark":{"type":"line","strokeWidth":2,"clip":false},"encoding":{"x":{"field":"t","type":"quantitative","scale":{"domain":[0,100],"nice":false},"axis":{"title":"min","values":[0,50,100]}},"y":{"field":"v","type":"quantitative","scale":{"domain":[0,500000],"nice":false},"axis":{"title":"Intensidade","values":[0,250000,500000],"format":"d"}},"color":{"field":"s","type":"nominal"}}},
 {"data":{"name":"chrom"},"transform":[{"filter":"datum.p=='AD'&&datum.s=='Macho'"}],"mark":{"type":"line","strokeWidth":2,"clip":false},"encoding":{"x":{"field":"t","type":"quantitative"},"y":{"field":"v","type":"quantitative"},"color":{"field":"s","type":"nominal"}}},
 {"data":{"name":"ann"},"transform":[{"filter":"datum.p=='AD'"}],"mark":{"type":"rule","color":"black","strokeWidth":2,"clip":false},"encoding":{"x":{"field":"x1","type":"quantitative"},"x2":{"field":"x2"},"y":{"field":"y","type":"quantitative"}}},
 {"data":{"name":"ann"},"transform":[{"filter":"datum.p=='AD'&&indexof(datum.label,'\\n')<0"}],"mark":{"type":"text","fontSize":15.5,"baseline":"bottom","dy":-4,"color":"black","clip":false},"encoding":{"x":{"field":"xm","type":"quantitative"},"y":{"field":"y","type":"quantitative"},"text":{"field":"label"}}},
 {"data":{"name":"ann"},"transform":[{"filter":"datum.p=='AD'&&indexof(datum.label,'\\n')>=0"}],"mark":{"type":"text","fontSize":15.5,"baseline":"bottom","dy":-22,"lineBreak":"\n","lineHeight":18,"color":"black","clip":false},"encoding":{"x":{"field":"xm","type":"quantitative"},"y":{"field":"y","type":"quantitative"},"text":{"field":"label"}}},
 {"data":{"name":"arr"},"transform":[{"filter":"datum.p=='AD'"}],"mark":{"type":"rule","color":"black","strokeWidth":2},"encoding":{"x":{"field":"t","type":"quantitative"},"y":{"field":"y1","type":"quantitative"},"y2":{"field":"y2"}}},
 {"data":{"name":"arr"},"transform":[{"filter":"datum.p=='AD'"}],"mark":{"type":"point","shape":"M-1,-1.4L0,0L1,-1.4","filled":false,"color":"black","strokeWidth":2,"size":196,"opacity":1},"encoding":{"x":{"field":"t","type":"quantitative"},"y":{"field":"y2","type":"quantitative"}}}
]}
]
}
